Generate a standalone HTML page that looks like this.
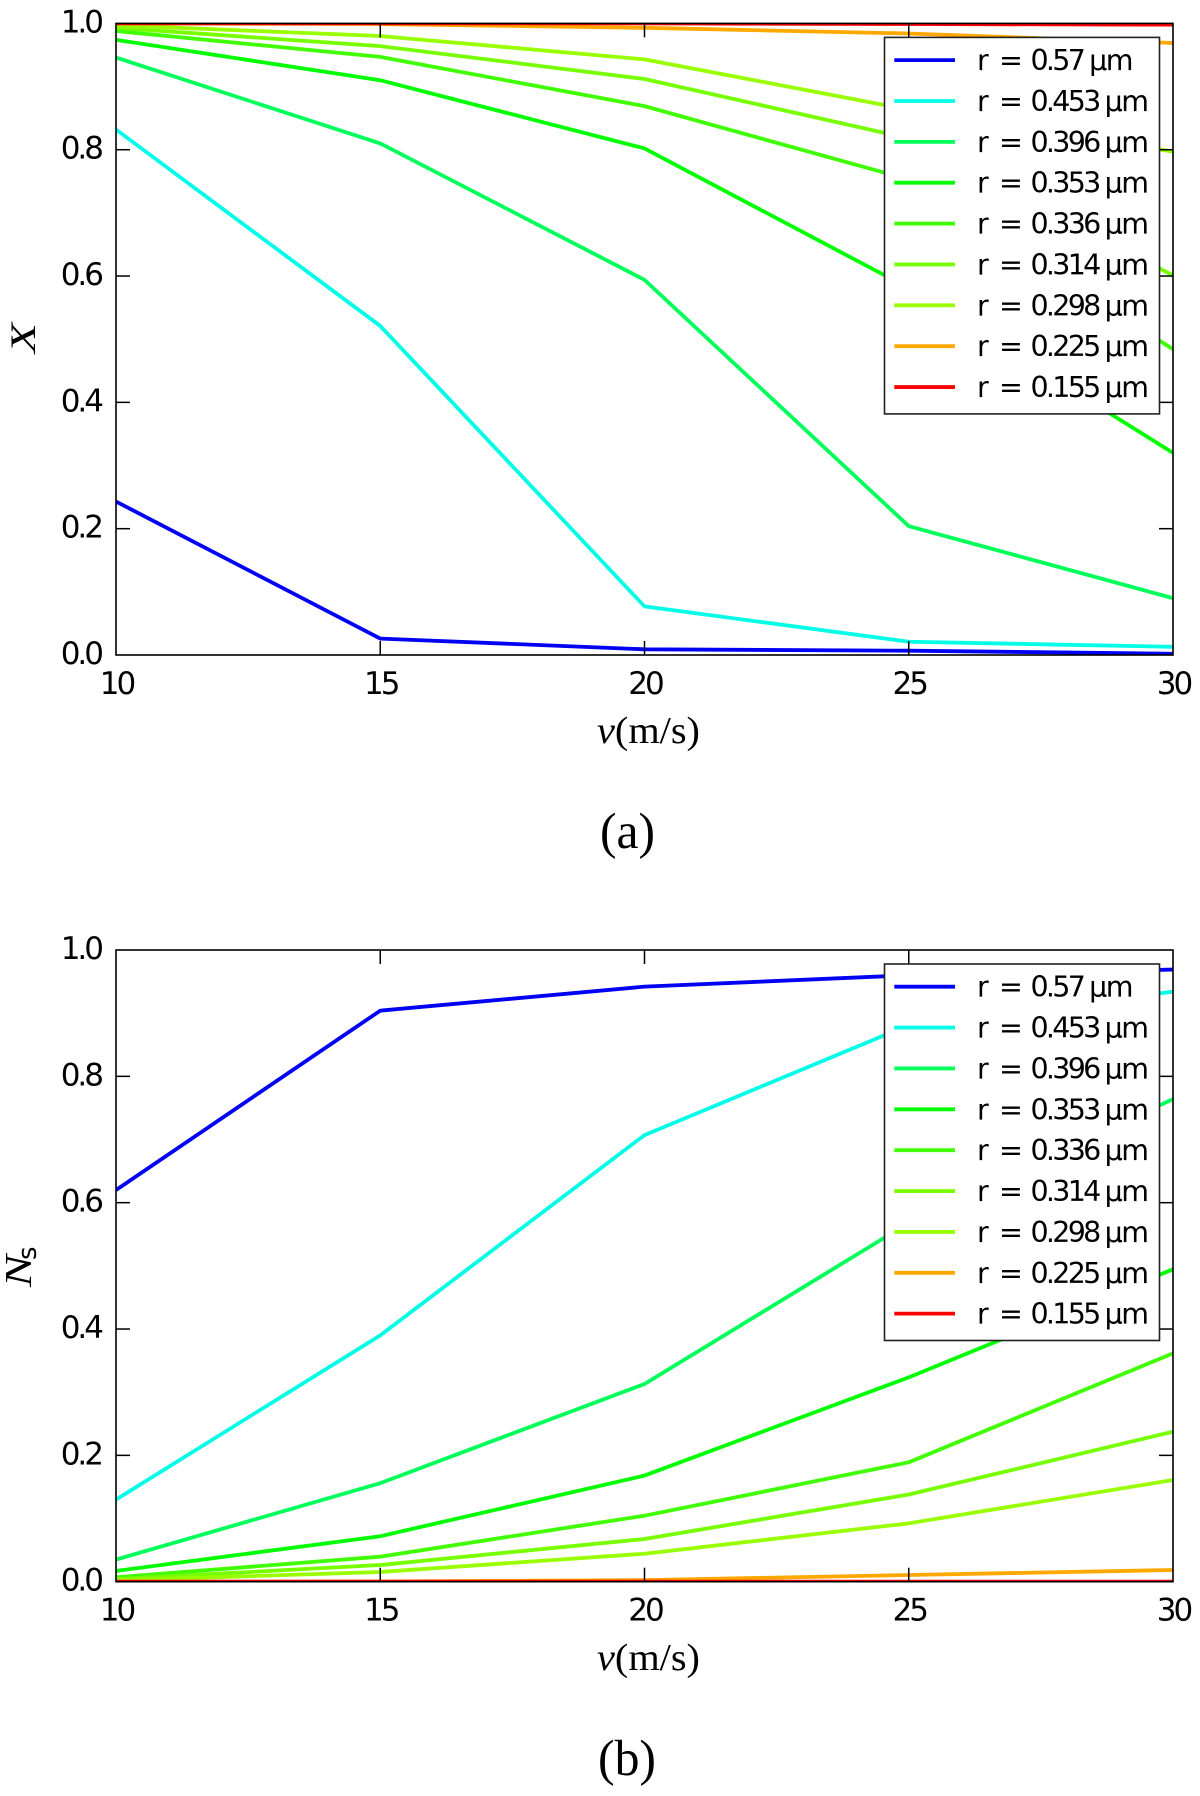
<!DOCTYPE html>
<html lang="en">
<head>
<meta charset="utf-8">
<title>Conversion and sediment number vs velocity</title>
<style>
html,body{margin:0;padding:0;background:#fff;width:1200px;height:1796px;overflow:hidden}
svg{display:block}
.tick-label{font-family:"DejaVu Sans","Liberation Sans",sans-serif;font-size:31px;letter-spacing:-3px;fill:#000}
.legend-text{font-family:"DejaVu Sans","Liberation Sans",sans-serif;font-size:28.5px;fill:#000}
.serif{font-family:"Liberation Serif",serif;fill:#000}
</style>
</head>
<body>
<svg id="figure" xmlns="http://www.w3.org/2000/svg" width="1200" height="1796" viewBox="0 0 1200 1796">
<rect x="0" y="0" width="1200" height="1796" fill="#fff"/>
<text class="serif" x="597" y="743" font-size="38" textLength="103" lengthAdjust="spacingAndGlyphs"><tspan font-style="italic">v</tspan>(m/s)</text>
<text class="serif" x="600" y="848" font-size="51" textLength="55" lengthAdjust="spacingAndGlyphs">(a)</text>
<text class="serif" font-size="36" font-style="italic" text-anchor="middle" transform="translate(35,338) rotate(-90)" textLength="30" lengthAdjust="spacingAndGlyphs">X</text>
<text class="serif" x="597" y="1670" font-size="38" textLength="103" lengthAdjust="spacingAndGlyphs"><tspan font-style="italic">v</tspan>(m/s)</text>
<text class="serif" x="598" y="1775" font-size="51" textLength="58" lengthAdjust="spacingAndGlyphs">(b)</text>
<g transform="translate(31,1287) rotate(-90)">
<text class="serif" x="0" y="0" font-size="38" font-style="italic" textLength="32" lengthAdjust="spacingAndGlyphs">N</text>
<text x="27" y="5" font-family="DejaVu Sans, sans-serif" font-size="26" fill="#000">s</text>
</g>
</svg>
<script>
const velocities = [10, 15, 20, 25, 30];
const xTickLabels = ["10", "15", "20", "25", "30"];
const yTickValues = [0, 0.2, 0.4, 0.6, 0.8, 1.0];
const yTickLabels = ["0.0", "0.2", "0.4", "0.6", "0.8", "1.0"];
const radiiLabels = ["0.57", "0.453", "0.396", "0.353", "0.336", "0.314", "0.298", "0.225", "0.155"];
const seriesColors = ["#0000f5", "#00ffe6", "#00ff5a", "#00ff00", "#40ff00", "#77ff00", "#99ff00", "#ffa800", "#ff0000"];

const conversionR057 = [0.243, 0.026, 0.009, 0.0068, 0.002];
const conversionR453 = [0.832, 0.521, 0.077, 0.021, 0.013];
const conversionR396 = [0.946, 0.810, 0.594, 0.204, 0.090];
const conversionR353 = [0.974, 0.910, 0.802, 0.581, 0.320];
const conversionR336 = [0.988, 0.947, 0.869, 0.753, 0.484];
const conversionR314 = [0.993, 0.964, 0.912, 0.818, 0.601];
const conversionR298 = [0.997, 0.980, 0.943, 0.8635, 0.797];
const conversionR225 = [1.0, 0.999, 0.993, 0.984, 0.969];
const conversionR155 = [1.0, 1.0, 1.0, 0.999, 0.998];

const sedimentR057 = [0.620, 0.904, 0.942, 0.960, 0.969];
const sedimentR453 = [0.130, 0.390, 0.707, 0.881, 0.934];
const sedimentR396 = [0.035, 0.156, 0.313, 0.568, 0.764];
const sedimentR353 = [0.017, 0.072, 0.168, 0.3235, 0.4945];
const sedimentR336 = [0.007, 0.0396, 0.1045, 0.189, 0.3615];
const sedimentR314 = [0.004, 0.0264, 0.0676, 0.138, 0.2375];
const sedimentR298 = [0.002, 0.0154, 0.0443, 0.0924, 0.161];
const sedimentR225 = [0.0, 0.0003, 0.0025, 0.0106, 0.0185];
const sedimentR155 = [0.0, 0.0, 0.0, 0.0, 0.0];

const conversionSeries = [conversionR057, conversionR453, conversionR396, conversionR353, conversionR336, conversionR314, conversionR298, conversionR225, conversionR155];
const sedimentSeries = [sedimentR057, sedimentR453, sedimentR396, sedimentR353, sedimentR336, sedimentR314, sedimentR298, sedimentR225, sedimentR155];

const SVG_NS = "http://www.w3.org/2000/svg";
const fig = document.getElementById("figure");
const LEFT = 116, RIGHT = 1173, TICK = 14;

function svgEl(tag, attrs, parent) {
  const el = document.createElementNS(SVG_NS, tag);
  for (const k in attrs) el.setAttribute(k, attrs[k]);
  parent.appendChild(el);
  return el;
}

function drawPanel(suffix, top, bottom, legendTop, series) {
  const xScale = v => LEFT + (v - velocities[0]) / (velocities[velocities.length - 1] - velocities[0]) * (RIGHT - LEFT);
  const yScale = v => bottom - v * (bottom - top);

  const group = svgEl("g", {}, fig);
  
  

  const defs = svgEl("defs", {}, group);
  const clip = svgEl("clipPath", { id: "clip-" + suffix }, defs);
  svgEl("rect", { x: LEFT, y: top, width: RIGHT - LEFT, height: bottom - top }, clip);

  const lines = svgEl("g", { "clip-path": "url(#clip-" + suffix + ")" }, group);
  series.forEach((vals, i) => {
    const d = vals.map((v, j) => (j ? "L" : "M") + xScale(velocities[j]).toFixed(2) + " " + yScale(v).toFixed(2)).join(" ");
    const path = svgEl("path", { d: d, fill: "none", stroke: seriesColors[i], "stroke-width": 3.8, "stroke-linejoin": "round" }, lines);
    
    
  });

  velocities.forEach((v, i) => {
    const x = xScale(v);
    if (i > 0 && i < velocities.length - 1) {
      const bottomTick = svgEl("line", { x1: x, x2: x, y1: bottom, y2: bottom - TICK, stroke: "#000", "stroke-width": 1.5 }, group);
      
      
      const topTick = svgEl("line", { x1: x, x2: x, y1: top, y2: top + TICK, stroke: "#000", "stroke-width": 1.5 }, group);
      
      
    }
    const label = svgEl("text", { x: x + 0.5, y: bottom + 39, "text-anchor": "middle", class: "tick-label" }, group);
    label.textContent = xTickLabels[i];
    
    
  });

  yTickValues.forEach((v, i) => {
    const y = yScale(v);
    if (i > 0 && i < yTickValues.length - 1) {
      const leftTick = svgEl("line", { x1: LEFT, x2: LEFT + TICK, y1: y, y2: y, stroke: "#000", "stroke-width": 1.5 }, group);
      
      
      const rightTick = svgEl("line", { x1: RIGHT, x2: RIGHT - TICK, y1: y, y2: y, stroke: "#000", "stroke-width": 1.5 }, group);
      
      
    }
    const label = svgEl("text", { x: 101, y: y + 9, "text-anchor": "end", class: "tick-label" }, group);
    label.textContent = yTickLabels[i];
    
    
  });

  const frame = svgEl("rect", { x: LEFT, y: top, width: RIGHT - LEFT, height: bottom - top, fill: "none", stroke: "#000", "stroke-width": 1.6 }, group);
  
  

  const legend = svgEl("g", {}, group);
  
  
  const box = svgEl("rect", { x: 884.5, y: legendTop, width: 275, height: 376.5, fill: "#fff", stroke: "#222", "stroke-width": 1.6 }, legend);
  
  

  radiiLabels.forEach((r, i) => {
    const rowY = legendTop + 22.7 + i * 40.87;
    const entry = svgEl("g", {}, legend);
    
    
    svgEl("line", { x1: 894.3, x2: 955, y1: rowY, y2: rowY, stroke: seriesColors[i], "stroke-width": 3.8 }, entry);
    const t = svgEl("text", { x: 977, y: rowY + 10, class: "legend-text" }, entry);
    const rPart = svgEl("tspan", {}, t);
    rPart.textContent = "r";
    const eq = svgEl("tspan", { x: 999 }, t);
    eq.textContent = "=";
    const num = svgEl("tspan", { x: 1030.5, "letter-spacing": "-2.7" }, t);
    num.textContent = r;
    const unit = svgEl("tspan", { dx: "6", "letter-spacing": "-1.5" }, t);
    unit.textContent = "\u00b5m";
  });
}

drawPanel("a", 23.4, 655, 37.4, conversionSeries);
drawPanel("b", 950, 1581.7, 964, sedimentSeries);
</script>
</body>
</html>
